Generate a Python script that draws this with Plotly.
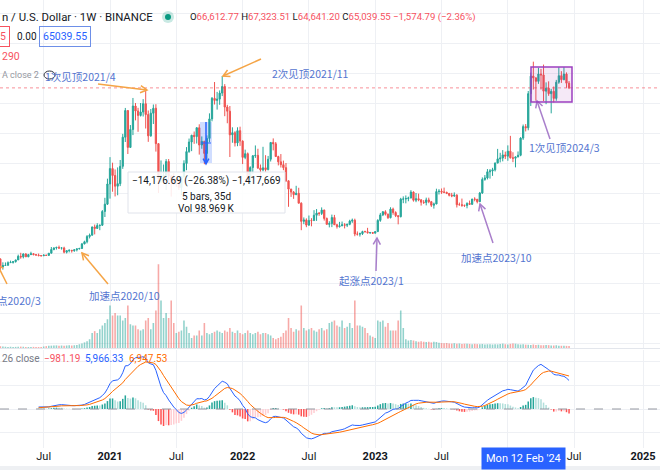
import math
import pandas as pd
import plotly.graph_objects as go

# ---------------- data (weekly bars, thousand USD) ----------------
FIRST_BAR = "2019-12-16"
FIRST_OPEN = 7.11

close_k = [
    7.51, 7.39, 7.76,
    # 2020
    8.19, 8.70, 8.60, 9.37, 10.33, 9.91, 9.97, 8.52, 8.03, 5.36, 5.83, 5.88, 6.78,
    6.86, 7.12, 7.70, 8.90, 8.72, 9.67, 8.72, 9.45, 9.75, 9.46, 9.30, 9.14, 9.07,
    9.30, 9.20, 9.93, 11.17, 11.68, 11.85, 11.65, 11.68, 10.27, 10.79, 10.92, 10.77, 11.07,
    11.37, 11.51, 13.03, 13.74, 15.48, 15.95, 18.68, 18.20, 19.15, 19.27, 23.86, 26.28, 33.00,
    # 2021
    38.15, 35.83, 32.26, 33.11, 38.90, 48.60, 57.50, 45.20, 51.18, 59.00, 57.35, 55.85, 57.00,
    59.77, 56.15, 49.05, 56.60, 58.25, 46.45, 34.70, 35.65, 35.80, 40.50, 35.60, 34.70, 34.25,
    34.25, 31.80, 35.40, 39.85, 43.80, 47.00, 49.25, 48.80, 51.75, 46.00, 47.25, 43.20, 48.20,
    54.70, 61.55, 60.85, 61.30, 63.30, 65.50, 58.65, 57.27, 49.40, 50.10, 46.70, 50.78, 47.30,
    # 2022
    41.87, 43.10, 35.10, 38.47, 42.40, 42.55, 38.35, 37.70, 38.40, 37.80, 41.25, 46.85, 46.40,
    42.15, 40.38, 39.45, 38.45, 34.05, 31.30, 30.30, 29.45, 29.90, 26.60, 20.55, 21.03, 19.30,
    20.85, 20.80, 22.58, 23.30, 23.18, 24.31, 21.52, 19.55, 19.80, 21.82, 19.42, 18.80, 19.04,
    19.42, 19.27, 19.57, 20.63, 20.92, 16.33, 16.28, 16.45, 17.13, 17.10, 16.75, 16.84, 16.60,
    # 2023
    17.13, 20.87, 22.70, 23.75, 22.93, 21.78, 24.63, 23.49, 22.43, 22.12, 27.95, 27.99, 28.17,
    28.33, 30.30, 27.59, 28.09, 27.70, 26.92, 26.85, 27.70, 27.10, 25.92, 26.34, 30.47, 30.58,
    30.29, 30.24, 29.85, 29.23, 29.03, 29.28, 26.10, 26.10, 25.88, 25.85, 26.53, 26.25, 27.98,
    27.92, 27.11, 29.99, 34.53, 35.01, 37.06, 37.36, 37.71, 39.97, 41.38, 41.65, 42.70, 42.28,
    # 2024
    43.95, 41.73, 41.58, 42.03, 42.58, 48.30, 52.13, 51.73, 63.11, 68.96, 68.38, 67.21, 69.65,
    69.36, 63.95, 64.94, 63.12, 63.89, 61.54, 66.94, 69.10, 67.77, 69.65, 66.61277, 65.03955,
]

high_k = [
    7.52, 7.70, 7.80,
    8.46, 9.19, 8.75, 9.62, 10.38, 10.50, 10.25, 10.00, 9.19, 8.18, 6.90, 6.85, 7.20,
    7.46, 7.30, 7.70, 9.46, 10.07, 9.90, 9.95, 9.70, 10.42, 9.99, 9.60, 9.80, 9.30,
    9.47, 9.27, 10.00, 12.00, 11.90, 12.10, 12.47, 11.85, 12.09, 10.80, 11.18, 10.99, 11.10,
    11.45, 11.72, 13.35, 14.09, 15.97, 16.48, 18.80, 19.48, 19.92, 19.43, 24.30, 28.40, 34.78,
    41.95, 40.10, 37.85, 38.53, 41.00, 49.70, 58.35, 57.55, 52.65, 61.68, 60.00, 58.40, 60.00,
    61.30, 64.85, 57.50, 58.00, 59.50, 59.60, 46.60, 40.85, 39.50, 41.30, 41.33, 36.00, 36.60,
    35.10, 34.60, 35.50, 40.90, 45.30, 48.15, 49.40, 50.50, 51.90, 52.90, 48.85, 47.35, 49.20,
    56.55, 62.00, 67.00, 63.70, 64.20, 69.00, 66.30, 59.40, 59.00, 51.90, 50.60, 51.90, 52.10,
    47.55, 44.45, 43.50, 38.90, 42.65, 45.85, 44.75, 39.50, 45.40, 42.60, 42.35, 46.95, 48.20,
    47.00, 42.42, 42.98, 40.80, 40.00, 34.25, 31.40, 30.65, 32.40, 31.75, 26.90, 21.85, 21.55,
    22.50, 21.60, 24.28, 24.65, 23.65, 25.20, 24.45, 21.82, 20.58, 22.80, 22.70, 19.70, 20.38,
    20.48, 19.95, 19.70, 21.08, 21.48, 21.45, 17.19, 16.80, 17.42, 17.43, 18.39, 16.95, 16.95,
    17.18, 21.25, 23.35, 23.95, 24.25, 23.15, 25.25, 25.12, 23.90, 22.60, 28.39, 28.88, 29.18,
    28.78, 30.95, 30.55, 30.00, 29.80, 28.00, 27.65, 28.45, 28.45, 27.35, 26.80, 31.43, 31.28,
    31.50, 31.80, 30.40, 30.03, 30.05, 30.20, 29.60, 26.80, 28.14, 26.10, 26.89, 27.48, 28.05,
    28.58, 27.99, 30.35, 35.20, 35.98, 37.98, 37.98, 38.40, 40.18, 44.70, 43.40, 44.30, 43.80,
    45.88, 49.05, 43.58, 42.20, 43.85, 48.60, 52.82, 52.98, 64.00, 70.13, 73.78, 68.50, 71.76,
    71.35, 72.80, 66.87, 67.22, 64.72, 65.50, 67.70, 71.95, 70.60, 71.99, 70.20, 67.32351,
]

low_k = [
    6.43, 7.13, 6.87,
    7.67, 8.10, 8.24, 8.60, 9.15, 9.65, 9.30, 8.40, 8.00, 3.78, 4.44, 5.67, 5.86,
    6.75, 6.47, 6.80, 7.65, 8.10, 8.20, 8.70, 8.63, 9.38, 9.23, 9.20, 8.90, 8.90,
    9.03, 9.10, 9.15, 9.90, 10.90, 11.15, 11.37, 11.13, 9.88, 9.85, 10.20, 10.14, 10.40,
    10.53, 11.20, 11.40, 12.90, 13.20, 14.85, 15.80, 16.20, 18.10, 17.60, 19.00, 22.00, 26.00,
    28.13, 30.42, 28.85, 29.25, 32.30, 38.05, 47.00, 43.00, 45.00, 49.30, 54.20, 50.40, 55.50,
    55.50, 51.50, 47.05, 48.75, 53.00, 43.80, 30.00, 33.40, 33.50, 31.00, 33.30, 28.80, 32.70,
    32.10, 31.00, 29.30, 35.20, 37.60, 43.40, 43.95, 46.40, 46.50, 42.80, 44.75, 39.60, 40.75,
    46.90, 53.90, 59.50, 57.80, 59.40, 62.30, 55.60, 53.25, 42.00, 46.75, 45.50, 45.60, 45.70,
    39.65, 41.27, 34.00, 32.90, 36.25, 41.70, 38.00, 34.30, 37.20, 37.10, 37.55, 40.50, 44.20,
    42.10, 39.20, 38.50, 37.60, 33.70, 25.40, 28.70, 28.05, 29.30, 26.56, 17.60, 19.60, 18.60,
    19.05, 18.90, 20.75, 20.70, 22.40, 22.66, 20.80, 19.52, 18.54, 18.63, 19.35, 18.15, 18.47,
    19.00, 18.19, 18.65, 19.25, 20.05, 15.59, 15.80, 15.48, 16.00, 16.88, 16.50, 16.35, 16.33,
    16.60, 17.10, 20.40, 22.30, 22.50, 21.35, 21.53, 22.75, 21.97, 19.55, 21.85, 26.60, 26.55,
    27.25, 28.20, 27.13, 26.94, 27.25, 25.81, 26.35, 25.87, 26.60, 25.35, 24.80, 26.26, 29.50,
    29.70, 29.95, 29.62, 28.86, 28.60, 28.70, 25.17, 25.80, 25.40, 25.36, 24.90, 26.00, 26.00,
    27.23, 26.54, 26.96, 29.70, 34.08, 34.52, 34.80, 35.70, 37.18, 39.96, 40.20, 40.55, 41.30,
    40.75, 41.50, 40.28, 38.55, 41.90, 42.26, 47.70, 50.52, 50.90, 59.00, 64.50, 60.76, 66.38,
    64.49, 60.66, 59.60, 62.40, 56.55, 60.19, 60.75, 66.40, 66.70, 67.60, 65.08, 64.6412,
]

volume_k = [
    1.0, 1.1, 0.9, 1.0, 1.2, 1.0, 1.1, 1.3, 1.2, 1.0, 1.1, 1.3,
    1.5, 1.2, 1.0, 0.9, 1.0, 0.8, 0.9, 1.0, 1.1, 1.0, 0.9, 0.8, 0.8, 0.9, 0.8, 0.8, 0.9, 1.2, 1.5,
    1.8, 1.9, 2.0, 2.1, 1.8, 2.0, 1.9, 2.0, 2.2, 2.0, 2.2, 2.4,
    3.0, 3.6, 4.5, 5.5,
    7.0, 12.0, 13.5, 12.0,
    15, 18, 20, 23,
    34, 26, 28, 26, 26, 22,
    24, 34, 19, 18, 18, 15,
    14, 15, 22, 24, 15, 20,
    30, 67, 38, 24, 28, 24,
    38, 20, 12, 13, 14, 22,
    17, 12, 8, 10, 10, 14, 10, 20,
    12, 11, 12, 13, 14, 13, 12, 14, 13,
    16, 13, 12, 14, 12, 11, 12,
    14, 12, 11, 12, 13, 11, 12,
    12, 11, 10, 8, 7, 8, 9, 12, 14,
    24,
    16, 13, 15, 14,
    34,
    16, 14, 15, 16, 14, 13, 15, 16, 14, 15,
    20, 21, 22, 18, 17, 22, 16, 17, 20, 16,
    38,
    18, 18, 17, 16, 12, 10, 9, 8,
    22, 21, 22, 17, 20, 14, 14, 14, 22,
    30,
    16,
    7, 6, 6.5, 6,
    5.5, 5, 5.5, 5, 4.8, 5, 4.5, 5, 4.8,
    4.2, 4.0, 3.8, 4.0, 3.6, 3.5, 3.8, 3.4, 3.6, 3.2, 3.4, 3.5, 3.2, 3.0, 3.3, 3.1, 3.0, 3.2, 2.9, 3.0,
    3.1, 2.8, 3.0, 2.9, 3.2, 3.5, 3.0, 2.8, 3.3, 3.6, 3.4, 3.0, 2.8, 3.0, 2.7, 2.6, 2.5, 2.8, 2.4, 2.6,
    2.3, 2.2, 2.4, 2.3, 2.1, 2.0, 2.2, 1.9, 1.8, 1.9, 1.7, 1.6,
]

tick_dates = ["2020-07-06", "2021-01-04", "2021-07-05", "2022-01-03", "2022-07-04",
              "2023-01-02", "2023-07-03", "2024-01-01", "2024-07-01", "2025-01-06"]
tick_text = ["Jul", "<b>2021</b>", "Jul", "<b>2022</b>", "Jul", "<b>2023</b>", "Jul", "",
             "Jul", "<b>2025</b>"]

n = len(close_k)
assert len(high_k) == n and len(low_k) == n and len(volume_k) == n, (n, len(high_k), len(low_k), len(volume_k))

dates = pd.date_range(FIRST_BAR, periods=n, freq="7D")
open_k = [FIRST_OPEN] + close_k[:-1]

# MACD (12, 26, 9) on close
def ema(vals, span):
    a = 2.0 / (span + 1)
    out, e = [], vals[0]
    for v in vals:
        e = a * v + (1 - a) * e
        out.append(e)
    return out

e12, e26 = ema(close_k, 12), ema(close_k, 26)
macd = [a - b for a, b in zip(e12, e26)]
signal = ema(macd, 9)
hist = [m - s for m, s in zip(macd, signal)]
SHOW_FROM = 27
macd_d = [None if i < SHOW_FROM else v for i, v in enumerate(macd)]
sig_d = [None if i < SHOW_FROM else v for i, v in enumerate(signal)]
hist_d = [None if i < SHOW_FROM else v for i, v in enumerate(hist)]
hist_col = []
for i, h in enumerate(hist):
    p = hist[i - 1] if i > 0 else h
    if h >= 0:
        hist_col.append("#26a69a" if h >= p else "#b2dfdb")
    else:
        hist_col.append("#ffcdd2" if h >= p else "#ff5252")

UP, DN = "#26a69a", "#ef5350"
vol_col = ["rgba(38,166,154,0.5)" if c >= o else "rgba(239,83,80,0.5)" for o, c in zip(open_k, close_k)]

# ---------------- geometry ----------------
W, H, B = 660, 470, 22
PH = H - B
def PX(x):
    return x / W
def PY(y):
    return 1 - y / PH

px_per_day = 533 / 1463.0
ref = pd.Timestamp("2021-01-04")
x_left = ref - pd.Timedelta(days=110 / px_per_day)
x_right = ref + pd.Timedelta(days=(W - 110) / px_per_day)

PRICE_ZERO_PX, PX_PER_K = 283.0, 3.0
price_top_px, price_bot_px = 0, 348
y_rng = [(PRICE_ZERO_PX - price_bot_px) / PX_PER_K, (PRICE_ZERO_PX - price_top_px) / PX_PER_K]
VOL_PX_PER_K = 1.25
vol_rng = [0, (price_bot_px - price_top_px) / VOL_PX_PER_K]
MACD_ZERO_PX, MACD_K_PER_PX = 409.0, 0.212
macd_top_px, macd_bot_px = 350, PH
m_rng = [-(macd_bot_px - MACD_ZERO_PX) * MACD_K_PER_PX, (MACD_ZERO_PX - macd_top_px) * MACD_K_PER_PX]

week_ms = 7 * 86400000

fig = go.Figure()
fig.add_trace(go.Bar(x=dates, y=volume_k, marker=dict(color=vol_col, line=dict(width=0)),
                     width=0.62 * week_ms, xaxis="x", yaxis="y2", hoverinfo="skip"))
fig.add_trace(go.Candlestick(x=dates, open=open_k, high=high_k, low=low_k, close=close_k,
                             increasing=dict(line=dict(color=UP, width=1), fillcolor=UP),
                             decreasing=dict(line=dict(color=DN, width=1), fillcolor=DN),
                             whiskerwidth=0, xaxis="x", yaxis="y"))
fig.add_trace(go.Bar(x=dates, y=hist_d, marker=dict(color=hist_col, line=dict(width=0)),
                     width=0.6 * week_ms, xaxis="x2", yaxis="y3", hoverinfo="skip"))
fig.add_trace(go.Scatter(x=dates, y=macd_d, mode="lines", line=dict(color="#2962ff", width=1),
                         xaxis="x2", yaxis="y3"))
fig.add_trace(go.Scatter(x=dates, y=sig_d, mode="lines", line=dict(color="#ff6d00", width=1),
                         xaxis="x2", yaxis="y3"))

GRID = "#eef0f4"
FONT = "Roboto, 'Noto Sans CJK SC', sans-serif"
CJK = "'Noto Sans CJK SC', Roboto, sans-serif"

fig.update_layout(
    width=W, height=H, margin=dict(l=0, r=0, t=0, b=B, autoexpand=False),
    paper_bgcolor="white", plot_bgcolor="white", showlegend=False,
    font=dict(family=FONT, color="#131722"),
    xaxis=dict(domain=[0, 1], anchor="y", type="date", range=[x_left, x_right],
               tickvals=tick_dates, showticklabels=False, showgrid=True, gridcolor=GRID,
               zeroline=False, showline=False, rangeslider=dict(visible=False), fixedrange=True),
    xaxis2=dict(domain=[0, 1], anchor="y3", type="date", matches="x", range=[x_left, x_right],
                tickvals=tick_dates, ticktext=tick_text, tickfont=dict(size=11, color="#131722"),
                showgrid=True, gridcolor=GRID, zeroline=False, showline=False, ticks="", fixedrange=True),
    yaxis=dict(domain=[PY(price_bot_px), 1], range=y_rng, dtick=10, showticklabels=False,
               showgrid=True, gridcolor=GRID, zeroline=False, fixedrange=True),
    yaxis2=dict(overlaying="y", range=vol_rng, visible=False, fixedrange=True),
    yaxis3=dict(domain=[0, PY(macd_top_px)], range=m_rng, dtick=5, showticklabels=False,
                showgrid=True, gridcolor=GRID, zeroline=False, fixedrange=True),
)

shapes = []
ann = []

def line_px(x0, y0, x1, y1, color, w=1.5, dash=None):
    shapes.append(dict(type="line", xref="paper", yref="paper", x0=PX(x0), y0=PY(y0),
                       x1=PX(x1), y1=PY(y1), line=dict(color=color, width=w, dash=dash or "solid")))

def arrow(hx, hy, tx, ty, color, w=1.5, head=7.5):
    line_px(tx, ty, hx, hy, color, w)
    dx, dy = tx - hx, ty - hy
    L = math.hypot(dx, dy)
    ux, uy = dx / L, dy / L
    pts = []
    for ang in (0.5, -0.5):
        wx = ux * math.cos(ang) - uy * math.sin(ang)
        wy = ux * math.sin(ang) + uy * math.cos(ang)
        pts.append((hx + head * wx, hy + head * wy))
    path = "M {},{} L {},{} L {},{}".format(PX(pts[0][0]), PY(pts[0][1]), PX(hx), PY(hy),
                                            PX(pts[1][0]), PY(pts[1][1]))
    shapes.append(dict(type="path", xref="paper", yref="paper", path=path,
                       line=dict(color=color, width=w)))

def text(x, y, s, size=11, color="#131722", anchor="left", family=FONT, **kw):
    ann.append(dict(xref="paper", yref="paper", x=PX(x), y=PY(y), text=s, showarrow=False,
                    xanchor=anchor, yanchor="middle", font=dict(size=size, color=color, family=family), **kw))

# chrome
shapes.append(dict(type="rect", xref="paper", yref="paper", x0=0, x1=1, y0=PY(0), y1=PY(-5),
                   fillcolor="#e6e8ec", line=dict(width=0)))
shapes.append(dict(type="rect", xref="paper", yref="paper", x0=0, x1=1, y0=PY(470), y1=PY(466),
                   fillcolor="#eef0f3", line=dict(width=0)))
line_px(0, 348.5, W, 348.5, "#e3e6ec", 1)

# last price dotted line & macd zero line
shapes.append(dict(type="line", xref="paper", yref="y", x0=0, x1=1, y0=close_k[-1], y1=close_k[-1],
                   line=dict(color="rgba(242,54,69,0.55)", width=1, dash="dot")))
shapes.append(dict(type="line", xref="paper", yref="y3", x0=0, x1=1, y0=0, y1=0,
                   line=dict(color="#9598a1", width=1, dash="dash")))

ORANGE, PURPLE, LBLUE = "#f5a445", "#a97fcb", "#5475d0"
# orange arrows
arrow(-3, 264, 7, 284, ORANGE)
arrow(82, 253, 108, 284, ORANGE)
arrow(147, 90, 98, 84, ORANGE)
arrow(223, 76, 261, 59, ORANGE)
# purple arrows
arrow(377, 238, 376, 271, PURPLE)
arrow(480, 204, 493, 243, PURPLE)
arrow(537, 101, 550, 139, PURPLE)
# purple box
shapes.append(dict(type="rect", xref="paper", yref="paper", x0=PX(531), x1=PX(572), y0=PY(102), y1=PY(67),
                   line=dict(color="#9c3fc0", width=1.5), fillcolor="rgba(156,39,176,0.10)"))

# measure tool
shapes.append(dict(type="rect", xref="paper", yref="paper", x0=PX(200), x1=PX(212), y0=PY(163), y1=PY(122),
                   line=dict(width=0), fillcolor="rgba(41,98,255,0.22)"))
line_px(206, 122, 206, 163, "#2962ff", 1.5)
line_px(201, 143, 211, 143, "#2962ff", 1)
arrow(206, 164, 206, 150, "#2962ff", 1.5, 6)
shapes.append(dict(type="rect", xref="paper", yref="paper", x0=PX(128), x1=PX(285), y0=PY(213), y1=PY(172),
                   line=dict(color="#e0e3eb", width=1), fillcolor="rgba(255,255,255,0.88)"))
text(206.5, 181, "\u221214,176.69 (\u221226.38%) \u22121,417,669", 10, anchor="center")
text(206.5, 196, "5 bars, 35d", 10, anchor="center")
text(206.5, 208, "Vol 98.969\u2009K", 10, anchor="center")

# labels
text(43, 76, "1次见顶2021/4", 10.5, LBLUE, family=CJK)
text(270, 73, "2次见顶2021/11", 10.5, LBLUE, family=CJK)
text(87, 295, "加速点2020/10", 10.5, LBLUE, family=CJK)
text(43, 300, "起涨点2020/3", 10.5, LBLUE, anchor="right", family=CJK)
text(337, 280, "起涨点2023/1", 10.5, LBLUE, family=CJK)
text(459, 257, "加速点2023/10", 10.5, LBLUE, family=CJK)
text(527, 147, "1次见顶2024/3", 10.5, LBLUE, family=CJK)

# header
RED, GRAY = "#f7525f", "#787b86"
text(0, 17, "n / U.S. Dollar \u00b7 1W \u00b7 BINANCE", 11.4)
shapes.append(dict(type="circle", xref="paper", yref="paper", x0=PX(162), x1=PX(174), y0=PY(23), y1=PY(11),
                   fillcolor="rgba(8,153,129,0.22)", line=dict(width=0)))
shapes.append(dict(type="circle", xref="paper", yref="paper", x0=PX(165), x1=PX(171), y0=PY(20), y1=PY(14),
                   fillcolor="#089981", line=dict(width=0)))
ohlc_vals = [("O", "66,612.77"), ("H", "67,323.51"), ("L", "64,641.20"), ("C", "65,039.55")]
ohlc = " ".join("{}<span style='color:{}'>{}</span>".format(k, RED, v) for k, v in ohlc_vals)
ohlc += " <span style='color:{}'>\u22121,574.79 (\u22122.36%)</span>".format(RED)
text(188, 17, ohlc, 9.6)
text(3, 37, "5", 10.5, RED, anchor="center", bordercolor=RED, borderwidth=1, borderpad=3)
text(15, 37, "0.00", 10, "#131722")
text(39, 37, "65039.55", 10.5, "#2962ff", bordercolor="#6d8fe8", borderwidth=1, borderpad=3)
text(0, 57, "290", 10.5, RED)
text(0, 75, "A close 2", 9, "#9598a1")
shapes.append(dict(type="circle", xref="paper", yref="paper", x0=PX(44), x1=PX(55), y0=PY(79), y1=PY(71),
                   line=dict(color="#2a2e39", width=1)))

# MACD legend
text(0, 358, "26 close", 10, GRAY)
text(42, 358, "\u2212981.19", 10, RED)
text(83, 358, "5,966.33", 10, "#2962ff")
text(127, 358, "6,947.53", 10, "#ff6d00")

# crosshair date label
ann.append(dict(xref="x2", yref="paper", x="2024-02-12", y=PY(458), text="Mon 12 Feb '24",
                showarrow=False, xanchor="center", yanchor="middle", bgcolor="#2962ff",
                font=dict(size=11, color="white", family=FONT), borderpad=4))

fig.update_layout(shapes=shapes, annotations=ann)
fig.write_html("out.html", config={"displayModeBar": False, "staticPlot": True},
               post_script="document.documentElement.style.margin='0';"
                           "document.body.style.margin='0';document.body.style.padding='0';"
                           "document.body.style.overflow='hidden';")
